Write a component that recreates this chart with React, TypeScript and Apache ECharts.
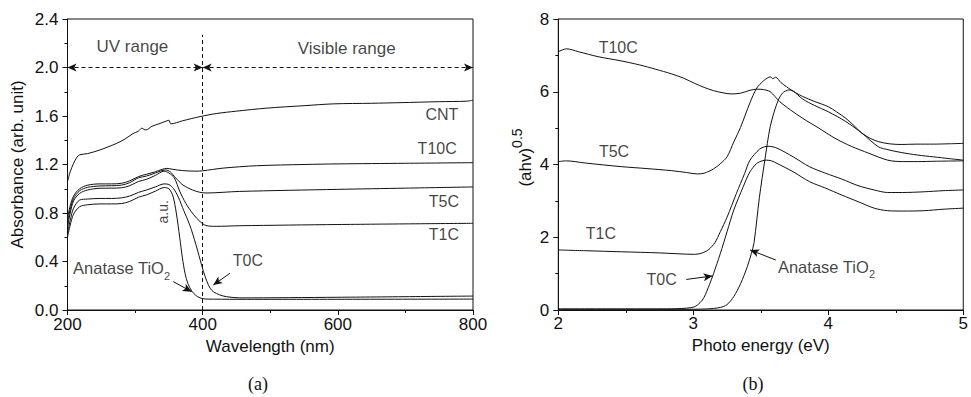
import React, { useEffect, useRef } from "react";
import * as echarts from "echarts";

// ---------- (a) Absorbance vs wavelength ----------
const cntA = [[200,1.06],[204,1.14],[209,1.21],[214,1.26],[218,1.28],[230,1.29],[248,1.32],[260,1.345],[273,1.375],[285,1.41],[297,1.455],[305,1.475],[310,1.5],[313,1.49],[316,1.485],[325,1.515],[335,1.535],[347,1.56],[350,1.565],[353,1.535],[370,1.56],[396,1.595],[420,1.62],[450,1.64],[495,1.665],[550,1.685],[593,1.70],[650,1.705],[692,1.71],[750,1.718],[790,1.722],[800,1.73]];
const t10cA = [[200,0.76],[204,0.86],[209,0.94],[218,1.0],[230,1.03],[248,1.04],[265,1.04],[280,1.045],[292,1.065],[305,1.1],[317,1.12],[330,1.14],[340,1.16],[347,1.168],[356,1.16],[370,1.15],[390,1.145],[400,1.148],[430,1.17],[480,1.19],[550,1.2],[600,1.205],[700,1.21],[800,1.215]];
const t5cA = [[200,0.72],[204,0.83],[209,0.92],[218,0.984],[230,1.012],[248,1.023],[265,1.025],[280,1.03],[292,1.05],[305,1.09],[317,1.105],[330,1.13],[345,1.155],[352,1.14],[360,1.09],[371,1.03],[385,0.99],[395,0.972],[405,0.965],[455,0.978],[600,0.995],[700,1.005],[800,1.015]];
const t1cA = [[200,0.68],[204,0.8],[209,0.9],[218,0.962],[230,0.99],[248,1.004],[265,1.005],[280,1.008],[292,1.025],[305,1.06],[317,1.078],[330,1.11],[343,1.145],[350,1.13],[358,1.09],[366,0.98],[375,0.88],[386,0.79],[396,0.73],[405,0.697],[420,0.69],[455,0.695],[600,0.705],[800,0.715]];
const t0cA = [[200,0.63],[204,0.74],[209,0.84],[218,0.907],[230,0.915],[248,0.92],[265,0.92],[280,0.925],[292,0.94],[305,0.97],[317,0.99],[330,1.015],[343,1.04],[350,1.035],[357,1.0],[364,0.93],[372,0.82],[381,0.7],[390,0.54],[396,0.42],[401,0.32],[406,0.24],[411,0.18],[416,0.15],[425,0.125],[435,0.11],[455,0.1],[600,0.105],[800,0.115]];
const anataseA = [[200,0.6],[204,0.7],[209,0.79],[218,0.852],[230,0.868],[248,0.875],[265,0.875],[280,0.878],[292,0.895],[305,0.93],[317,0.95],[330,0.98],[343,1.01],[350,1.0],[356,0.94],[361,0.8],[366,0.6],[370,0.43],[374,0.3],[378,0.22],[384,0.155],[390,0.12],[396,0.1],[405,0.09],[500,0.088],[800,0.09]];

// ---------- (b) Tauc plot ----------
const t10cB = [[2.0,7.1],[2.03,7.15],[2.06,7.18],[2.15,7.1],[2.3,6.96],[2.45,6.86],[2.6,6.74],[2.72,6.62],[2.84,6.49],[2.93,6.37],[3.01,6.23],[3.08,6.12],[3.15,6.03],[3.22,5.97],[3.28,5.94],[3.35,5.96],[3.42,6.04],[3.47,6.07],[3.52,6.06],[3.57,6.0],[3.64,5.73],[3.72,5.5],[3.81,5.27],[3.93,5.0],[4.05,4.72],[4.17,4.5],[4.3,4.31],[4.44,4.12],[4.55,4.08],[4.66,4.08],[4.8,4.09],[5.0,4.1]];
const t5cB = [[2.0,4.08],[2.06,4.1],[2.2,4.04],[2.47,3.94],[2.65,3.89],[2.84,3.83],[2.95,3.78],[3.03,3.74],[3.08,3.76],[3.15,3.88],[3.2,4.02],[3.25,4.21],[3.3,4.62],[3.35,5.02],[3.42,5.7],[3.47,6.1],[3.52,6.3],[3.55,6.38],[3.57,6.41],[3.59,6.36],[3.61,6.4],[3.65,6.25],[3.69,6.14],[3.72,6.06],[3.76,5.97],[3.81,5.87],[3.9,5.73],[4.0,5.59],[4.06,5.45],[4.13,5.27],[4.19,5.07],[4.25,4.86],[4.31,4.72],[4.37,4.63],[4.45,4.57],[4.54,4.55],[4.65,4.56],[4.78,4.56],[4.9,4.57],[5.0,4.58]];
const t1cB = [[2.0,1.65],[2.2,1.63],[2.47,1.6],[2.75,1.57],[3.01,1.53],[3.06,1.56],[3.11,1.65],[3.16,1.85],[3.2,2.15],[3.25,2.55],[3.32,3.21],[3.38,3.75],[3.42,4.12],[3.49,4.42],[3.53,4.49],[3.56,4.5],[3.62,4.45],[3.74,4.21],[3.86,3.94],[3.98,3.76],[4.1,3.6],[4.22,3.42],[4.34,3.3],[4.44,3.23],[4.55,3.23],[4.71,3.25],[4.85,3.28],[5.0,3.3]];
const t0cB = [[2.0,0.03],[2.5,0.03],[2.8,0.03],[2.95,0.05],[3.01,0.09],[3.05,0.2],[3.08,0.35],[3.12,0.7],[3.15,1.0],[3.2,1.55],[3.25,2.15],[3.3,2.75],[3.37,3.39],[3.42,3.8],[3.47,4.03],[3.51,4.1],[3.54,4.12],[3.58,4.1],[3.62,4.03],[3.74,3.8],[3.86,3.53],[3.98,3.35],[4.1,3.16],[4.22,2.98],[4.34,2.8],[4.44,2.73],[4.55,2.72],[4.71,2.73],[4.85,2.77],[5.0,2.8]];
const anataseB = [[2.0,0.02],[2.5,0.02],[2.9,0.02],[3.1,0.03],[3.2,0.07],[3.25,0.15],[3.3,0.37],[3.35,0.72],[3.4,1.19],[3.43,1.55],[3.45,1.85],[3.49,3.1],[3.53,4.12],[3.57,5.04],[3.62,5.68],[3.66,5.96],[3.71,6.05],[3.74,6.02],[3.81,5.8],[3.9,5.62],[4.0,5.45],[4.13,5.18],[4.25,4.86],[4.37,4.49],[4.45,4.4],[4.54,4.33],[4.66,4.26],[4.78,4.21],[4.9,4.16],[5.0,4.12]];

// ---------- annotation texts (data coordinates) ----------
const labelsA = [
  { name: "UV range", at: [296, 2.17], size: 17 },
  { name: "Visible range", at: [613, 2.16], size: 17 },
  { name: "CNT", at: [754, 1.61], size: 16 },
  { name: "T10C", at: [747, 1.333], size: 16 },
  { name: "T5C", at: [757, 0.894], size: 16 },
  { name: "T1C", at: [757, 0.619], size: 16 },
  { name: "T0C", at: [467, 0.407], size: 16 },
  { name: "{base|Anatase TiO}{sub|2}", at: [280, 0.344], size: 16 },
];
const labelsB = [
  { name: "T10C", at: [2.444, 7.21], size: 16 },
  { name: "T5C", at: [2.413, 4.35], size: 16 },
  { name: "T1C", at: [2.316, 2.11], size: 16 },
  { name: "T0C", at: [2.765, 0.825], size: 16 },
  { name: "{base|Anatase TiO}{sub|2}", at: [3.986, 1.19], size: 16 },
];
const arrowsA = [
  [[440.4, 0.303], [415.7, 0.206]],
  [[356.5, 0.234], [383.7, 0.151]],
];
const arrowsB = [
  [[2.948, 0.84], [3.142, 0.935]],
  [[3.611, 1.375], [3.421, 1.65]],
];
const rangeArrows = [
  [[200, 2.0], [400, 2.0]],
  [[400, 2.0], [800, 2.0]],
];
const boundaryLine = [[400, 0], [400, 2.27]];

const FONT = "'Liberation Sans', Arial, sans-serif";
const INK = "#111";

export default function App() {
  const ref = useRef<HTMLDivElement>(null);
  useEffect(() => {
    if (!ref.current) return;
    const chart = echarts.init(ref.current, undefined, { renderer: "svg" });
    const rich = {
      base: { fontSize: 16.5, fontFamily: FONT, color: INK, lineHeight: 26 },
      sub: { fontSize: 11, fontFamily: FONT, color: INK, lineHeight: 11, verticalAlign: "bottom" },
    };
    const axisCommon = {
      type: "value",
      splitLine: { show: false },
      axisLine: { show: true, onZero: false, lineStyle: { color: INK, width: 1 } },
      axisTick: { show: true, length: 5, lineStyle: { color: INK } },
      minorTick: { show: true, splitNumber: 2, length: 3, lineStyle: { color: INK } },
      axisLabel: { color: INK, fontSize: 17, fontFamily: FONT },
      nameTextStyle: { color: INK, fontSize: 17, fontFamily: FONT },
      nameLocation: "middle",
    };
    const curve = (data: number[][], xi: number) => ({
      type: "line",
      xAxisIndex: xi,
      yAxisIndex: xi,
      data,
      showSymbol: false,
      smooth: 0.3,
      lineStyle: { color: INK, width: 1 },
      silent: true,
      z: 3,
    });
    const textSeries = (list: { name: string; at: number[]; size: number }[], xi: number) => ({
      type: "scatter",
      xAxisIndex: xi,
      yAxisIndex: xi,
      symbolSize: 1,
      itemStyle: { color: "rgba(0,0,0,0)" },
      silent: true,
      data: list.map((l) => ({
        value: l.at,
        label: {
          show: true,
          position: "inside",
          formatter: l.name,
          color: INK,
          fontSize: l.size,
          fontFamily: FONT,
          rich,
        },
      })),
    });
    const arrowSeries = (list: number[][][], xi: number, both: boolean, dashed: boolean) => ({
      type: "line",
      xAxisIndex: xi,
      yAxisIndex: xi,
      data: [],
      silent: true,
      markLine: {
        silent: true,
        animation: false,
        symbol: both ? ["arrow", "arrow"] : ["none", "arrow"],
        symbolSize: [6, 9],
        label: { show: false },
        lineStyle: { color: INK, width: 1, type: dashed ? [4, 3] : "solid" },
        emphasis: { disabled: true },
        data: list.map((seg) => [{ coord: seg[0] }, { coord: seg[1] }]),
      },
    });

    chart.setOption({
      animation: false,
      backgroundColor: "#fff",
      grid: [
        { left: 67.5, top: 19, width: 405.5, height: 291, show: true, borderColor: INK, borderWidth: 1, backgroundColor: "transparent" },
        { left: 558.3, top: 19, width: 411.5, height: 291, show: true, borderColor: INK, borderWidth: 1, backgroundColor: "transparent" },
      ],
      xAxis: [
        { ...axisCommon, gridIndex: 0, min: 200, max: 800, interval: 200, name: "Wavelength (nm)", nameGap: 28,
          axisLabel: { ...axisCommon.axisLabel, margin: 6 } },
        { ...axisCommon, gridIndex: 1, min: 2, max: 5, interval: 1, name: "Photo energy (eV)", nameGap: 24,
          axisLabel: { ...axisCommon.axisLabel, margin: 5 } },
      ],
      yAxis: [
        { ...axisCommon, gridIndex: 0, min: 0, max: 2.4, interval: 0.4, name: "Absorbance (arb. unit)", nameGap: 42,
          axisLabel: { ...axisCommon.axisLabel, margin: 9, formatter: (v: number) => v.toFixed(1) } },
        { ...axisCommon, gridIndex: 1, min: 0, max: 8, interval: 2, name: "{base|(ahv)}{sup|0.5}", nameGap: 18,
          axisLabel: { ...axisCommon.axisLabel, margin: 9 },
          nameTextStyle: {
            color: INK, fontSize: 17, fontFamily: FONT, padding: [0, 0, 0, 14],
            rich: {
              base: { fontSize: 17, fontFamily: FONT, color: INK, lineHeight: 30 },
              sup: { fontSize: 14, fontFamily: FONT, color: INK, lineHeight: 12, verticalAlign: "top" },
            },
          } },
      ],
      graphic: [
        { type: "text", x: 258, y: 384, style: { text: "(a)", font: "18px 'Liberation Serif', 'Times New Roman', serif", fill: INK, textAlign: "center", textVerticalAlign: "middle" } },
        { type: "text", x: 753, y: 384, style: { text: "(b)", font: "18px 'Liberation Serif', 'Times New Roman', serif", fill: INK, textAlign: "center", textVerticalAlign: "middle" } },
      ],
      series: [
        curve(cntA, 0),
        curve(t10cA, 0),
        curve(t5cA, 0),
        curve(t1cA, 0),
        curve(t0cA, 0),
        curve(anataseA, 0),
        curve(t10cB, 1),
        curve(t5cB, 1),
        curve(t1cB, 1),
        curve(t0cB, 1),
        curve(anataseB, 1),
        textSeries(labelsA, 0),
        textSeries(labelsB, 1),
        {
          type: "scatter",
          xAxisIndex: 0,
          yAxisIndex: 0,
          symbolSize: 1,
          itemStyle: { color: "rgba(0,0,0,0)" },
          silent: true,
          data: [{ value: [341, 0.81], label: { show: true, position: "inside", formatter: "a.u.", rotate: 90, color: INK, fontSize: 14, fontFamily: FONT } }],
        },
        arrowSeries(arrowsA, 0, false, false),
        arrowSeries(arrowsB, 1, false, false),
        arrowSeries(rangeArrows, 0, true, true),
        {
          type: "line",
          xAxisIndex: 0,
          yAxisIndex: 0,
          data: [],
          silent: true,
          markLine: {
            silent: true,
            symbol: ["none", "none"],
            label: { show: false },
            lineStyle: { color: INK, width: 1, type: [4, 3] },
            data: [[{ coord: boundaryLine[0] }, { coord: boundaryLine[1] }]],
          },
        },
      ],
    });
    return () => chart.dispose();
  }, []);
  return (
    <div
      ref={ref}
      style={{ position: "fixed", left: 0, top: 0, width: 971, height: 397, background: "#fff" }}
    />
  );
}
